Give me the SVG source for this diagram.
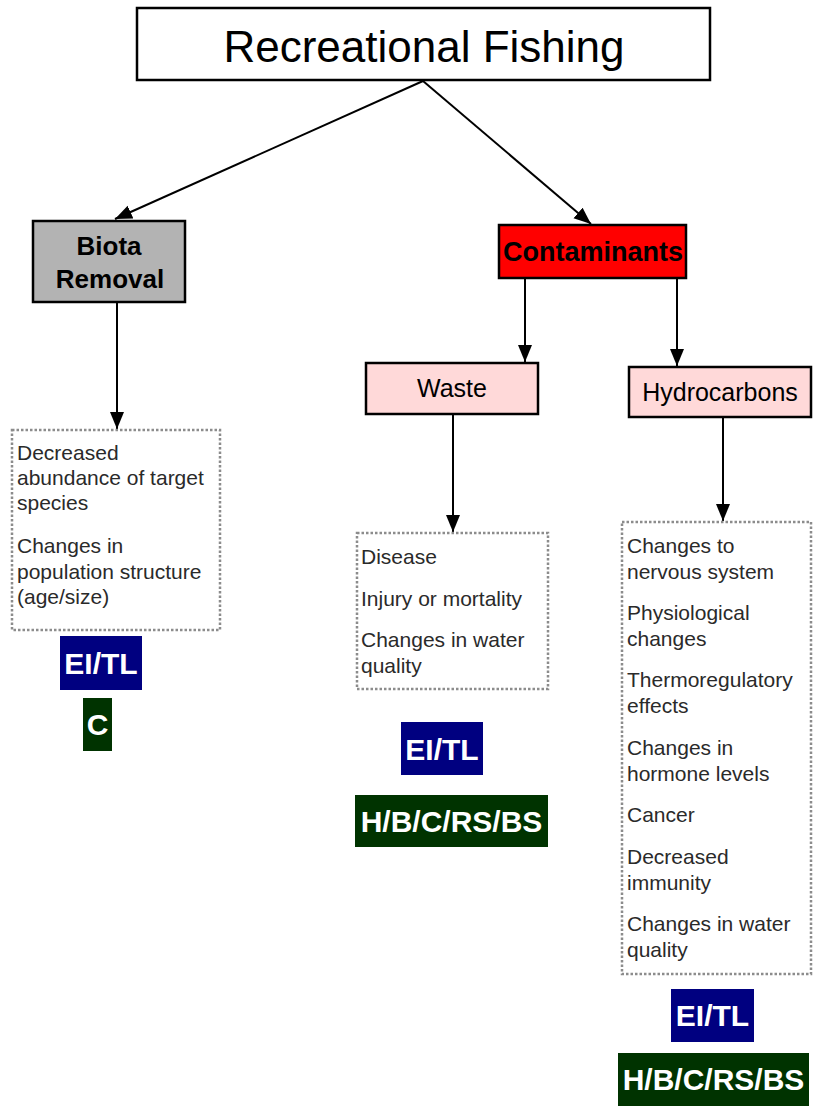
<svg xmlns="http://www.w3.org/2000/svg" width="817" height="1109" viewBox="0 0 817 1109">
<style>
text{font-family:"Liberation Sans",Arial,sans-serif}
.box{stroke:#000;stroke-width:2.5}
.dot{fill:#fff;stroke:#8c8c8c;stroke-width:2.5;stroke-dasharray:2.5 2}
.lst{font-size:21px;fill:#2a2a2a}
.tag{font-size:30px;font-weight:bold;fill:#fff;text-anchor:middle}
.cn{stroke:#000;stroke-width:2;fill:none}
</style>
<defs>
<marker id="ah" markerUnits="userSpaceOnUse" markerWidth="18" markerHeight="18" viewBox="0 0 18 18" refX="17" refY="9" orient="auto">
<path d="M0,2 L17,9 L0,16 Z" fill="#000"/>
</marker>
</defs>
<rect width="817" height="1109" fill="#fff"/>
<g id="connectors">
<line class="cn" x1="423" y1="81" x2="115" y2="219" marker-end="url(#ah)"/>
<line class="cn" x1="423" y1="81" x2="591" y2="224" marker-end="url(#ah)"/>
<line class="cn" x1="117" y1="303" x2="117" y2="429" marker-end="url(#ah)"/>
<line class="cn" x1="525" y1="279" x2="525" y2="362" marker-end="url(#ah)"/>
<line class="cn" x1="677" y1="279" x2="677" y2="366" marker-end="url(#ah)"/>
<line class="cn" x1="453" y1="415" x2="453" y2="532" marker-end="url(#ah)"/>
<line class="cn" x1="723" y1="418" x2="723" y2="521" marker-end="url(#ah)"/>
</g>
<g id="title">
<rect class="box" x="137" y="8" width="573" height="72" fill="#fff"/>
<text x="424" y="62" font-size="44" text-anchor="middle">Recreational Fishing</text>
</g>
<g id="biota">
<rect class="box" x="33" y="221" width="152" height="81" fill="#b3b3b3"/>
<text x="109" y="255" font-size="26" font-weight="bold" text-anchor="middle">Biota</text>
<text x="110" y="288" font-size="26" font-weight="bold" text-anchor="middle">Removal</text>
</g>
<g id="contaminants">
<rect class="box" x="499" y="225" width="187" height="53" fill="#ff0000"/>
<text x="593" y="261" font-size="27" font-weight="bold" text-anchor="middle">Contaminants</text>
</g>
<g id="waste">
<rect class="box" x="366" y="363" width="172" height="51" fill="#ffd9d9"/>
<text x="452" y="397" font-size="25" text-anchor="middle">Waste</text>
</g>
<g id="hydrocarbons">
<rect class="box" x="629" y="367" width="182" height="50" fill="#ffd9d9"/>
<text x="720" y="401" font-size="25" text-anchor="middle">Hydrocarbons</text>
</g>
<g id="biota-effects">
<rect class="dot" x="12" y="430" width="208" height="200"/>
<text class="lst" x="17" y="460">Decreased</text>
<text class="lst" x="17" y="485">abundance of target</text>
<text class="lst" x="17" y="510">species</text>
<text class="lst" x="17" y="553">Changes in</text>
<text class="lst" x="17" y="579">population structure</text>
<text class="lst" x="17" y="604">(age/size)</text>
</g>
<g id="biota-eitl">
<rect x="60" y="636" width="82" height="54" fill="#000080"/>
<text class="tag" x="101" y="674">EI/TL</text>
</g>
<g id="biota-c">
<rect x="83" y="698" width="29" height="53" fill="#003300"/>
<text class="tag" x="97.5" y="735">C</text>
</g>
<g id="waste-effects">
<rect class="dot" x="357" y="533" width="191" height="156"/>
<text class="lst" x="361" y="564">Disease</text>
<text class="lst" x="361" y="606">Injury or mortality</text>
<text class="lst" x="361" y="647">Changes in water</text>
<text class="lst" x="361" y="673">quality</text>
</g>
<g id="waste-eitl">
<rect x="401" y="722" width="82" height="53" fill="#000080"/>
<text class="tag" x="442" y="760">EI/TL</text>
</g>
<g id="waste-hbc">
<rect x="355" y="795" width="193" height="52" fill="#003300"/>
<text class="tag" x="451.5" y="832">H/B/C/RS/BS</text>
</g>
<g id="hydro-effects">
<rect class="dot" x="622" y="522" width="189" height="452"/>
<text class="lst" x="627" y="553">Changes to</text>
<text class="lst" x="627" y="579">nervous system</text>
<text class="lst" x="627" y="620">Physiological</text>
<text class="lst" x="627" y="646">changes</text>
<text class="lst" x="627" y="687">Thermoregulatory</text>
<text class="lst" x="627" y="713">effects</text>
<text class="lst" x="627" y="755">Changes in</text>
<text class="lst" x="627" y="781">hormone levels</text>
<text class="lst" x="627" y="822">Cancer</text>
<text class="lst" x="627" y="864">Decreased</text>
<text class="lst" x="627" y="890">immunity</text>
<text class="lst" x="627" y="931">Changes in water</text>
<text class="lst" x="627" y="957">quality</text>
</g>
<g id="hydro-eitl">
<rect x="671" y="989" width="83" height="53" fill="#000080"/>
<text class="tag" x="712.5" y="1026">EI/TL</text>
</g>
<g id="hydro-hbc">
<rect x="618" y="1053" width="191" height="53" fill="#003300"/>
<text class="tag" x="713.5" y="1090">H/B/C/RS/BS</text>
</g>
</svg>
